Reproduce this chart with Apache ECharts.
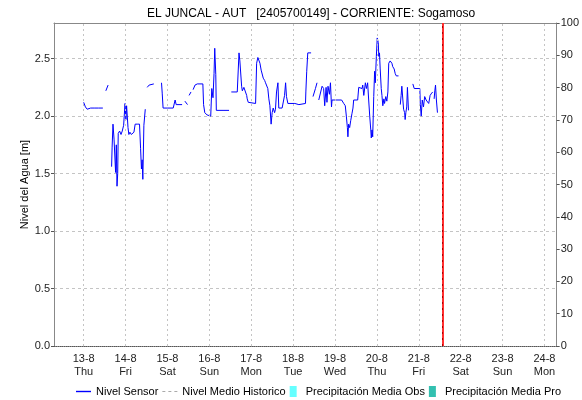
<!DOCTYPE html>
<html>
<head>
<meta charset="utf-8">
<script src="https://cdn.jsdelivr.net/npm/echarts@6/dist/echarts.min.js"></script>
<style>
  html, body { margin: 0; padding: 0; background: #fff; }
  #chart { width: 582px; height: 400px; }
</style>
</head>
<body>
<div id="chart"></div>
<script>
// hours since 13-8 00:00, null level = gap in the sensor record
var sensorHours = [
  0, 1, 2, 4, 6, 7, 8.5, 11, 11.8,
  12.7, 14, 15,
  16.0, 16.3, 16.8, 17.4, 18.3, 18.7, 19.1, 19.5, 19.8, 20.6, 21.4, 22.1, 22.9, 23.7, 24.2, 24.6,
  25.4, 25.9, 26.5, 27.3, 28.0, 28.8, 29.5, 30.7, 32.0, 32.6, 33.1, 33.5, 33.9, 34.5, 35.3, 35.8,
  36.4, 37.5, 38.5, 40.2, 42,
  44.6, 45.0, 45.5, 48, 51.3, 52.4, 53.0, 56.4, 57.2,
  58.0, 59.5, 60,
  60.4, 61.5, 62.1, 62.7, 63.8, 64.4, 65.1, 68.3, 68.7, 69.4, 70.7, 72.8, 73.4, 74.1, 74.7, 75.1,
  75.7, 76.0, 80.4, 81.5, 83.3, 84,
  84.6, 88.0, 89.0, 89.5, 89.9, 90.5, 90.9, 91.8, 92.8, 93.4, 93.7, 94.3, 94.7, 98.5, 99.1, 99.8,
  100.4, 101.0, 101.7, 102.9, 103.7, 104.2, 105.1, 105.5, 106.1, 106.7, 107.4, 108.0, 108.6, 109.4,
  109.9, 110.5, 111.3, 111.8, 113.7, 115.1, 115.7, 116.2, 117.0, 121.0, 123.3, 127.1, 127.3, 127.8,
  128.4, 130.3, 130.8,
  131.4, 132.8, 133.7, 134.2, 134.7, 135.7, 136.6, 137.5, 138.1, 138.9, 139.4, 140.0, 140.8, 141.4,
  142.0, 142.3, 147.8, 149.0, 149.9, 150.5, 151.1, 151.4, 151.8, 152.4, 153.0, 153.7, 154.3, 154.7,
  157.0, 157.6, 158.5, 159.5, 159.9, 160.5, 161.4, 162.0, 162.7, 163.3, 163.9, 164.5, 164.8, 165.2,
  165.6, 166.2, 166.7, 167.1, 167.7, 168.2, 168.8, 169.1, 169.5, 169.9, 170.5, 170.9, 171.4, 172.0,
  172.4, 173.1, 173.7, 174.3, 174.8, 175.6, 176.6, 177.1, 177.9, 178.5, 179.1, 180.4, 180.9,
  181.4, 181.9, 182.3, 182.9, 183.3, 183.9, 184.2, 184.6, 185.1, 185.5, 186.1, 187,
  188.6, 189.4, 192.6, 192.9, 193.4, 194.0, 194.7, 195.4, 196.2, 196.9, 197.7, 198.5, 199.4, 200.0,
  200.4, 200.8, 201.2, 201.6, 202.1, 202.7
];
var sensorLevel = [
  2.12, 2.08, 2.06, 2.07, 2.07, 2.06, 2.07, 2.07, null,
  2.22, 2.27, null,
  1.56, 1.73, 1.93, 1.80, 1.51, 1.75, 1.39, 1.50, 1.85, 1.87, 1.84, 1.87, 1.92, 2.11, 1.97, 2.09,
  1.90, 1.84, 1.86, 1.84, 1.83, 1.86, 1.93, 1.93, 1.93, 1.72, 1.54, 1.62, 1.45, 1.92, 2.06, null,
  2.25, 2.27, 2.28, 2.28, null,
  2.29, 2.20, 2.07, 2.07, 2.07, 2.14, 2.10, 2.10, null,
  2.13, 2.10, null,
  2.18, 2.21, null, 2.23, 2.27, 2.28, 2.28, 2.28, 2.10, 2.03, 2.01, 2.00, 2.24, 2.16, 2.37, 2.59,
  2.36, 2.05, 2.05, 2.06, 2.05, null,
  2.21, 2.21, 2.55, 2.48, 2.47, 2.26, 2.22, 2.25, 2.26, 2.18, 2.15, 2.12, 2.11, 2.11, 2.46, 2.51,
  2.50, 2.46, 2.40, 2.33, 2.31, 2.29, 2.28, 2.24, 2.15, 2.09, 1.93, 2.03, 2.07, 2.03,
  2.06, 2.21, 2.29, 2.07, 2.07, 2.18, 2.29, 2.17, 2.11, 2.11, 2.10, 2.11, 2.21, 2.39,
  2.55, 2.55, null,
  2.17, 2.24, 2.29, null, 2.14, 2.15, 2.26, 2.24, 2.09, 2.25, 2.12, 2.26, 2.19, 2.29,
  2.08, 2.14, 2.14, 2.11, 2.09, 2.00, 1.90, 1.82, 1.93, 1.90, 1.96, 2.02, 2.07, 2.14,
  2.14, 2.25, 2.24, 2.24, 2.27, 2.18, 2.29, 2.24, 2.29, 2.14, 2.00, 1.88, 1.81, 1.88,
  1.82, 2.17, 2.39, 2.29, 2.52, 2.68, 2.64, 2.52, 2.55, 2.41, 2.24, 2.18, 2.09, 2.15,
  2.11, 2.17, 2.13, 2.21, 2.46, 2.48, 2.46, 2.43, 2.41, 2.37, 2.35, 2.35, null,
  2.10, 2.18, 2.26, 2.14, 2.06, 2.03, 1.97, 2.03, 2.08, 2.25, 2.05, null,
  2.28, 2.24, 2.24, 2.10, 2.00, 2.14, 2.08, 2.17, 2.14, 2.15, 2.11, 2.18, 2.20, 2.21,
  null, 2.15, 2.22, 2.27, 2.14, 2.03
];

var dayHours = [0, 24, 48, 72, 96, 120, 144, 168, 192, 216, 240, 264];
var dayLabels = ['13-8', '14-8', '15-8', '16-8', '17-8', '18-8', '19-8', '20-8', '21-8', '22-8', '23-8', '24-8'];
var weekDays = ['Thu', 'Fri', 'Sat', 'Sun', 'Mon', 'Tue', 'Wed', 'Thu', 'Fri', 'Sat', 'Sun', 'Mon'];
var levelTicks = [0, 0.5, 1.0, 1.5, 2.0, 2.5];
var nowHour = 205.7; // red "now" marker, 21-8 ~13:40

var sensorData = sensorHours.map(function (h, i) { return [h, sensorLevel[i]]; });

var font = 'Liberation Sans, Arial, sans-serif';
var lineIcon = 'path://M0,0H15V1.4H0Z';
var dashIcon = 'path://M0,0H3V1H0Z M6,0H9V1H6Z M12,0H15V1H12Z';
var boxIcon = 'path://M0,0H7V11H0Z';

var chart = echarts.init(document.getElementById('chart'));

chart.setOption({
  animation: false,
  backgroundColor: '#fff',
  title: {
    text: 'EL JUNCAL - AUT   [2405700149] - CORRIENTE: Sogamoso',
    left: 306, top: 3, textAlign: 'center',
    textStyle: { fontFamily: font, fontSize: 12, fontWeight: 'normal', color: '#000' }
  },
  grid: { left: 54, right: 24, top: 23, bottom: 54 },
  legend: {
    left: 76, top: 386, padding: 0,
    itemWidth: 15, itemHeight: 11, itemGap: 4,
    textStyle: { fontFamily: font, fontSize: 11, color: '#000' },
    data: [
      { name: 'Nivel Sensor', icon: lineIcon,
        itemStyle: { color: '#0000ff', borderWidth: 0 }, lineStyle: { color: '#0000ff', width: 0 } },
      { name: 'Nivel Medio Historico', icon: dashIcon,
        itemStyle: { color: '#aaaaaa', borderWidth: 0 }, lineStyle: { color: '#aaaaaa', width: 0 } },
      { name: 'Precipitación Media Obs', icon: boxIcon, itemStyle: { color: '#66ffff', borderWidth: 0 } },
      { name: 'Precipitación Media Pro', icon: boxIcon, itemStyle: { color: '#33c0b0', borderWidth: 0 } }
    ]
  },
  xAxis: [{
    type: 'value', min: -17, max: 271,
    axisLine: { show: true, onZero: false, lineStyle: { color: '#555', type: 'dotted' } },
    axisTick: { show: false, customValues: dayHours },
    axisLabel: {
      customValues: dayHours,
      fontFamily: font, fontSize: 11, color: '#222', lineHeight: 13, margin: 6,
      formatter: function (v) {
        var i = Math.round(v / 24);
        return dayLabels[i] + '\n' + weekDays[i];
      }
    },
    splitLine: { show: false }
  }, {
    type: 'value', min: -17, max: 271, position: 'top',
    axisLine: { show: true, onZero: false, lineStyle: { color: '#888' } },
    axisTick: { show: false }, axisLabel: { show: false }, splitLine: { show: false }
  }],
  yAxis: [{
    type: 'value', min: 0, max: 2.81,
    name: 'Nivel del Agua [m]', nameLocation: 'middle', nameGap: 24, nameRotate: 90,
    nameMoveOverlap: false,
    nameTextStyle: { fontFamily: font, fontSize: 11, color: '#000' },
    axisLine: { show: true, onZero: false, lineStyle: { color: '#888' } },
    axisTick: { show: true, length: 3, customValues: levelTicks, lineStyle: { color: '#555' } },
    axisLabel: {
      customValues: levelTicks, margin: 4,
      fontFamily: font, fontSize: 11, color: '#222',
      formatter: function (v) { return v.toFixed(1); }
    },
    splitLine: { show: true, lineStyle: { color: '#c4c4c4', type: [3, 3] } }
  }, {
    type: 'value', min: 0, max: 100, interval: 10, position: 'right',
    axisLine: { show: true, onZero: false, lineStyle: { color: '#888' } },
    axisTick: { show: true, length: 3, lineStyle: { color: '#555' } },
    axisLabel: { margin: 4, fontFamily: font, fontSize: 11, color: '#222' },
    splitLine: { show: false }
  }],
  series: [{
    // day gridlines (vertical dashed), placed through the x scale
    type: 'line',
    data: [],
    silent: true,
    markLine: {
      silent: true, symbol: 'none', label: { show: false },
      lineStyle: { color: '#c4c4c4', width: 1, type: [2, 3] },
      data: dayHours.map(function (h) { return { xAxis: h }; })
    }
  }, {
    name: 'Nivel Sensor',
    type: 'line',
    data: sensorData,
    symbol: 'none',
    connectNulls: false,
    lineStyle: { color: '#0000ff', width: 1 },
    itemStyle: { color: '#0000ff' },
    markLine: {
      silent: true, symbol: 'none', label: { show: false },
      data: [
        { xAxis: nowHour, lineStyle: { color: '#ff3030', width: 2, type: 'solid' } },
        { xAxis: nowHour, lineStyle: { color: '#b00000', width: 1, type: [2, 4] } }
      ]
    }
  }, {
    name: 'Nivel Medio Historico',
    type: 'line',
    data: [],
    symbol: 'none',
    lineStyle: { color: '#aaaaaa', width: 1, type: [3, 3] },
    itemStyle: { color: '#aaaaaa' }
  }, {
    name: 'Precipitación Media Obs',
    type: 'bar', yAxisIndex: 1,
    data: [],
    itemStyle: { color: '#66ffff' }
  }, {
    name: 'Precipitación Media Pro',
    type: 'bar', yAxisIndex: 1,
    data: [],
    itemStyle: { color: '#33c0b0' }
  }]
});
</script>
</body>
</html>
